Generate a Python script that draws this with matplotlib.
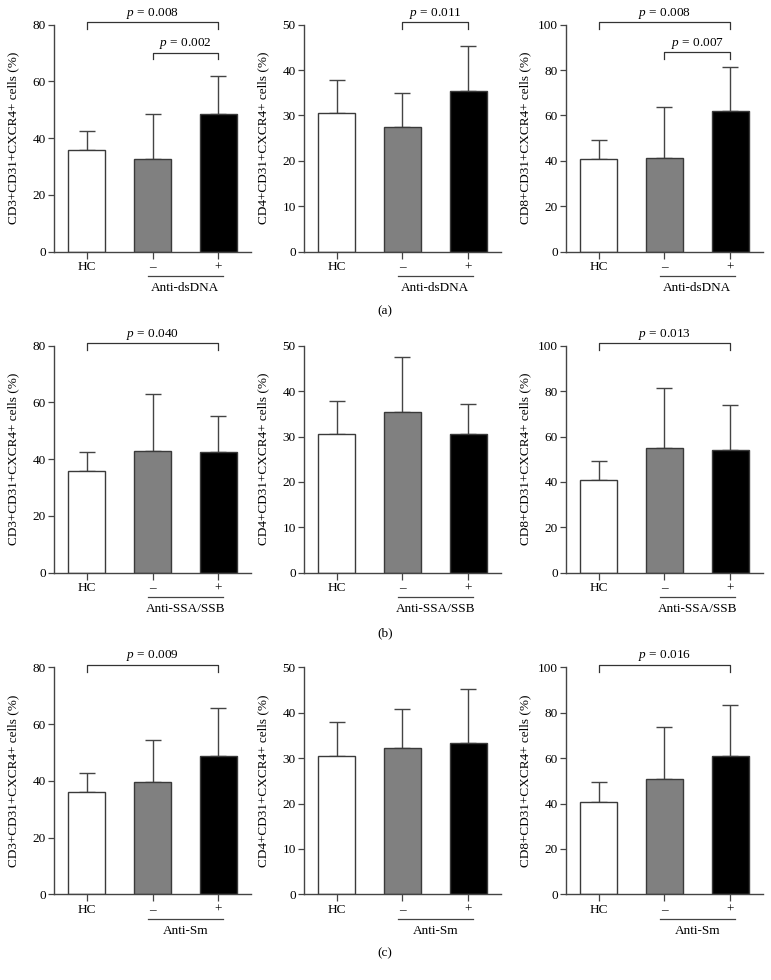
import numpy as np
import matplotlib
matplotlib.use("Agg")
import matplotlib.pyplot as plt

plt.rcParams['font.family'] = ['Liberation Serif', 'DejaVu Serif']
plt.rcParams['mathtext.fontset'] = 'custom'
plt.rcParams['mathtext.rm'] = 'Liberation Serif'
plt.rcParams['mathtext.it'] = 'Liberation Serif:italic'

# categories and labels
xlabels = ["HC", "\u2013", "+"]
groups = ["Anti-dsDNA", "Anti-SSA/SSB", "Anti-Sm"]
panel_tags = ["(a)", "(b)", "(c)"]
ylabels = ["CD3+CD31+CXCR4+ cells (%)",
           "CD4+CD31+CXCR4+ cells (%)",
           "CD8+CD31+CXCR4+ cells (%)"]
ymax = [80, 50, 100]
ystep = [20, 10, 20]

# means (%) per row (antibody) and column (cell type)
means_dsdna = [[36.0, 32.6, 48.6], [30.5, 27.5, 35.5], [40.8, 41.2, 62.0]]
means_ssa = [[36.0, 43.0, 42.6], [30.5, 35.3, 30.5], [40.8, 55.0, 54.0]]
means_sm = [[36.0, 39.7, 48.6], [30.5, 32.2, 33.3], [40.8, 51.0, 60.8]]

# standard deviations (upper error bars)
sd_dsdna = [[6.7, 15.9, 13.2], [7.4, 7.5, 9.9], [8.5, 22.7, 19.5]]
sd_ssa = [[6.7, 20.0, 12.6], [7.4, 12.3, 6.7], [8.5, 26.5, 19.8]]
sd_sm = [[6.7, 14.8, 17.2], [7.4, 8.7, 11.9], [8.5, 22.7, 22.4]]

# significance brackets: (from, to, level as fraction of ymax, text)
p_dsdna = [[(0, 2, 1.01, "0.008"), (1, 2, 0.877, "0.002")],
           [(1, 2, 1.01, "0.011")],
           [(0, 2, 1.01, "0.008"), (1, 2, 0.878, "0.007")]]
p_ssa = [[(0, 2, 1.01, "0.040")], [], [(0, 2, 1.01, "0.013")]]
p_sm = [[(0, 2, 1.01, "0.009")], [], [(0, 2, 1.01, "0.016")]]

all_means = [means_dsdna, means_ssa, means_sm]
all_sd = [sd_dsdna, sd_ssa, sd_sm]
all_p = [p_dsdna, p_ssa, p_sm]

bar_colors = ["white", "#808080", "black"]
edge = "#3a3a3a"
fs = 9.5

fig = plt.figure(figsize=(7.71, 9.80), dpi=100)

lefts = [54 / 771, 304 / 771, 566 / 771]
bottoms = [1 - 251.7 / 980, 1 - 572.7 / 980, 1 - 894.3 / 980]
tag_y = [311, 633, 953]
w = 197 / 771
h = 227 / 980

x = np.arange(3)
for r in range(3):
    for c in range(3):
        ax = fig.add_axes([lefts[c], bottoms[r], w, h])
        m = all_means[r][c]
        s = all_sd[r][c]
        ax.bar(x, m, width=0.56, color=bar_colors, edgecolor=edge, linewidth=1.0, zorder=2)
        ax.errorbar(x, m, yerr=[np.zeros(3), s], fmt="none", ecolor="#444444",
                    elinewidth=1.0, capsize=6, capthick=1.0, zorder=1)
        ax.set_xlim(-0.5, 2.5)
        ax.set_ylim(0, ymax[c])
        ax.set_yticks(np.arange(0, ymax[c] + 1, ystep[c]))
        ax.set_xticks(x)
        ax.set_xticklabels(xlabels, fontsize=fs)
        ax.tick_params(axis="y", labelsize=fs, length=4, width=0.9, color="#444444", pad=2)
        ax.tick_params(axis="x", length=5, width=0.9, color="#444444", pad=2)
        for sp in ["top", "right"]:
            ax.spines[sp].set_visible(False)
        for sp in ["left", "bottom"]:
            ax.spines[sp].set_color("#444444")
            ax.spines[sp].set_linewidth(1.0)
        ax.set_ylabel(ylabels[c], fontsize=fs)
        ax.yaxis.set_label_coords(-0.175, 0.5)

        # group line under the two patient bars
        ax.plot([0.93, 2.07], [-0.107, -0.107], color="#444444", lw=0.9,
                transform=ax.get_xaxis_transform(), clip_on=False)
        ax.text(1.5, -0.162, groups[r], fontsize=fs, ha="center", va="center",
                transform=ax.get_xaxis_transform())

        # significance brackets
        for (a, b, lev, txt) in all_p[r][c]:
            y = lev * ymax[c]
            d = 0.029 * ymax[c]
            ax.plot([a, a, b, b], [y - d, y, y, y - d], color="#333333", lw=0.9, clip_on=False)
            ax.text((a + b) / 2, y + 0.008 * ymax[c], "$p$ = " + txt, fontsize=fs,
                    ha="center", va="bottom")

    fig.text(385 / 771, 1 - tag_y[r] / 980, panel_tags[r], fontsize=fs,
             ha="center", va="center")

fig.savefig("out.png", dpi=100)
